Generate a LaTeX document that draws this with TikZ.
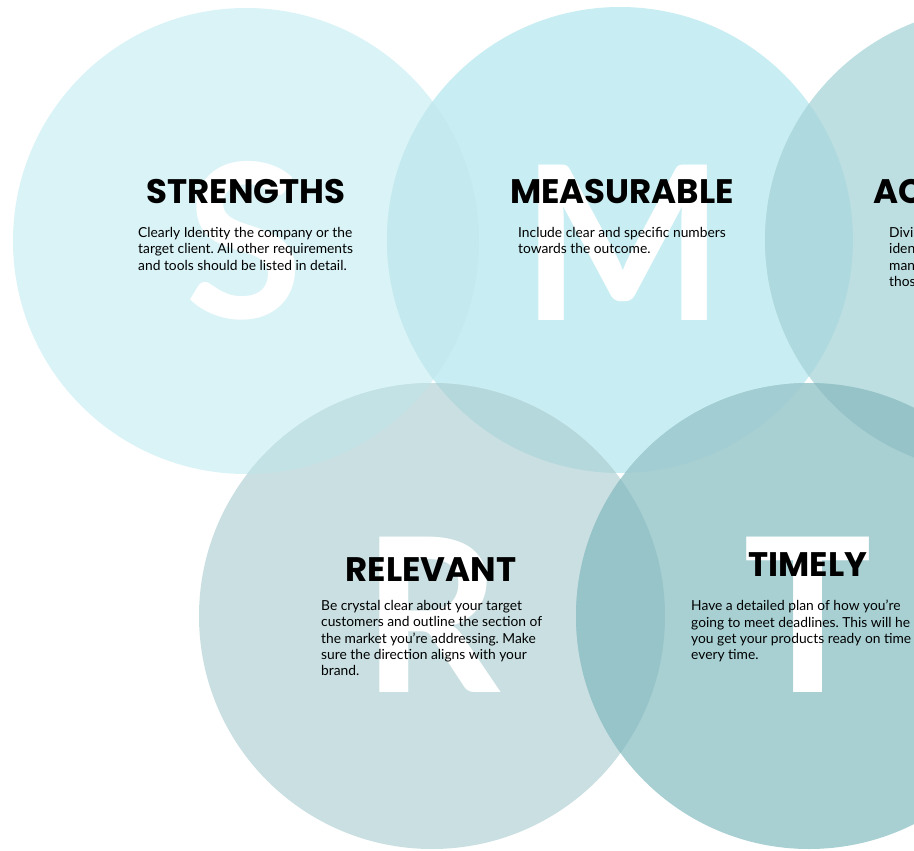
\documentclass[tikz,border=0pt]{standalone}
\usepackage{fontspec}
\setmainfont{Lato}
\newfontfamily\headfamily{Poppins}
\frenchspacing
\definecolor{circS}{HTML}{D9F3F7}
\definecolor{circM}{HTML}{C8EEF3}
\definecolor{circA}{HTML}{BEDFE2}
\definecolor{circR}{HTML}{C9DFE1}
\definecolor{circT}{HTML}{A8D0D3}
\definecolor{lapSM}{HTML}{C4EAF0}
\definecolor{lapMA}{HTML}{AEDADF}
\definecolor{lapSR}{HTML}{C2E2E6}
\definecolor{lapMR}{HTML}{B5D8DC}
\definecolor{lapMT}{HTML}{A2CDD2}
\definecolor{lapAT}{HTML}{96C3C8}
\definecolor{lapRT}{HTML}{96C4C8}
\definecolor{lapMRT}{HTML}{8FBEC2}
\tikzset{
  bigletter/.style={font=\fontsize{215}{215}\selectfont\bfseries, text=white, anchor=base, inner sep=0pt},
  heading/.style={font=\headfamily\fontsize{34}{34}\selectfont\bfseries, anchor=base, inner sep=0pt},
  blurb/.style={font=\fontsize{13.8}{16.4}\selectfont, align=left, anchor=north west, inner sep=0pt},
}
\newcommand{\rad}{233pt}

\begin{document}
\begin{tikzpicture}[x=1pt, y=-1pt]
    \useasboundingbox (0,0) rectangle (914,851);
    \clip (0,0) rectangle (914,851);
    \fill[white] (0,0) rectangle (914,851);

    \coordinate (sC) at (246,241);
    \coordinate (mC) at (620,240);
    \coordinate (aC) at (998,240);
    \coordinate (rC) at (432,616);
    \coordinate (tC) at (809,616);

    % the five circles
    \fill[circS] (sC) circle (\rad);
    \fill[circM] (mC) circle (\rad);
    \fill[circA] (aC) circle (\rad);
    \fill[circR] (rC) circle (\rad);
    \fill[circT] (tC) circle (\rad);

    % overlaps
    \begin{scope}
      \clip (sC) circle (\rad);
      \fill[lapSM] (mC) circle (\rad);
      \fill[lapSR] (rC) circle (\rad);
    \end{scope}
    \begin{scope}
      \clip (mC) circle (\rad);
      \fill[lapMA] (aC) circle (\rad);
      \fill[lapMR] (rC) circle (\rad);
      \fill[lapMT] (tC) circle (\rad);
    \end{scope}
    \begin{scope}
      \clip (aC) circle (\rad);
      \fill[lapAT] (tC) circle (\rad);
    \end{scope}
    \begin{scope}
      \clip (rC) circle (\rad);
      \fill[lapRT] (tC) circle (\rad);
      \clip (mC) circle (\rad);
      \fill[lapMRT] (tC) circle (\rad);
    \end{scope}

    % big letters
    \node[bigletter] (sBig) at (244,318) {S};
    \node[bigletter] (mBig) at (623,320) {M};
    \node[bigletter] (rBig) at (432,692) {R};
    \node[bigletter] (tBig) at (808,692) {T};

    % headings
    \node[heading] (sHead) at (246,203) {STRENGTHS};
    \node[heading] (mHead) at (622,203) {MEASURABLE};
    \node[heading, anchor=base west] (aHead) at (873,203) {AC};
    \node[heading] (rHead) at (431,581) {RELEVANT};
    \node[heading] (tHead) at (808,576) {TIMELY};

    % texts
    \node[blurb] (sText) at (138,227) {Clearly Identity the company or the\\target client. All other requirements\\and tools should be listed in detail.};
    \node[blurb] (mText) at (518,227) {Include clear and specific numbers\\towards the outcome.};
    \node[blurb] (aText) at (889,227) {Divi\\iden\\man\\thos};
    \node[blurb] (rText) at (321,600) {Be crystal clear about your target\\customers and outline the section of\\the market you’re addressing. Make\\sure the direction aligns with your\\brand.};
    \node[blurb] (tText) at (691,600) {Have a detailed plan of how you’re\\going to meet deadlines. This will he\\you get your products ready on time\\every time.};
\end{tikzpicture}
\end{document}
